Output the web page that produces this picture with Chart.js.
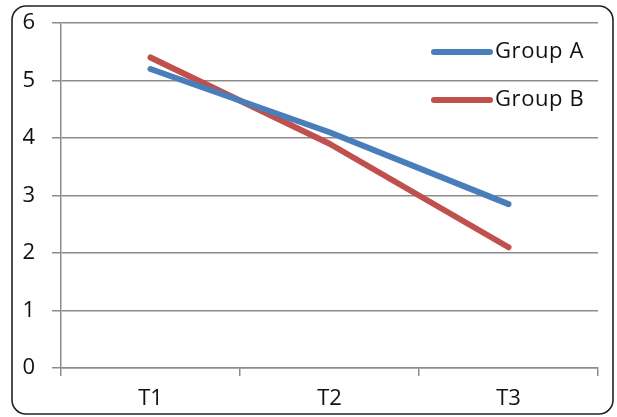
<!DOCTYPE html>
<html><head><meta charset="utf-8">
<script src="https://cdn.jsdelivr.net/npm/chart.js@4/dist/chart.umd.min.js"></script>
<style>html,body{margin:0;padding:0;background:#fff}#wrap{width:617px;height:417px;position:relative}</style>
</head><body><div id="wrap"><canvas id="c" width="617" height="417"></canvas></div>
<script>
const categories = ["T1", "T2", "T3"];
const groupA = [5.2, 4.1, 2.85];
const groupB = [5.4, 3.9, 2.1];
const seriesNames = ["Group A", "Group B"];
const yTicks = [0, 1, 2, 3, 4, 5, 6];

const FONT = "'Open Sans', 'Liberation Sans', sans-serif";
const frame = {
  id: 'frame',
  beforeDraw(chart) {
    const ctx = chart.ctx;
    ctx.save();
    ctx.fillStyle = '#fff';
    ctx.fillRect(0, 0, chart.width, chart.height);
    ctx.strokeStyle = '#222';
    ctx.lineWidth = 1.6;
    const x = 12, y = 6, w = 601, h = 408, r = 14;
    ctx.beginPath();
    ctx.moveTo(x + r, y);
    ctx.arcTo(x + w, y, x + w, y + h, r);
    ctx.arcTo(x + w, y + h, x, y + h, r);
    ctx.arcTo(x, y + h, x, y, r);
    ctx.arcTo(x, y, x + w, y, r);
    ctx.closePath();
    ctx.stroke();
    ctx.restore();
  }
};
const legendIn = {
  id: 'legendIn',
  afterDraw(chart) {
    const ctx = chart.ctx;
    ctx.save();
    ctx.font = "22px " + FONT;
    ctx.textBaseline = 'middle';
    ctx.textAlign = 'left';
    try { ctx.letterSpacing = '0.6px'; } catch (e) {}
    const rows = [52, 100];
    chart.data.datasets.forEach((ds, i) => {
      const y = rows[i];
      ctx.strokeStyle = ds.borderColor;
      ctx.lineWidth = 6;
      ctx.lineCap = 'round';
      ctx.beginPath();
      ctx.moveTo(434, y);
      ctx.lineTo(490, y);
      ctx.stroke();
      ctx.fillStyle = '#111';
      ctx.fillText(ds.label, 495, y);
    });
    ctx.restore();
  }
};

new Chart(document.getElementById('c'), {
  type: 'line',
  data: {
    labels: categories,
    datasets: [
      { label: seriesNames[0], data: groupA, borderColor: '#4a7ebb', backgroundColor: '#4a7ebb', borderWidth: 6, pointRadius: 0, borderCapStyle: 'round', borderJoinStyle: 'round', tension: 0 },
      { label: seriesNames[1], data: groupB, borderColor: '#c0504d', backgroundColor: '#c0504d', borderWidth: 6, pointRadius: 0, borderCapStyle: 'round', borderJoinStyle: 'round', tension: 0 }
    ]
  },
  options: {
    responsive: false,
    animation: false,
    devicePixelRatio: 1,
    layout: { padding: { top: 23, right: 19, bottom: 0, left: 0 } },
    plugins: { legend: { display: false }, tooltip: { enabled: false } },
    scales: {
      x: {
        offset: true,
        grid: { offset: true, drawOnChartArea: false, drawTicks: true, tickLength: 8, color: '#8c8c8c', lineWidth: 1.5 },
        border: { color: '#8c8c8c', width: 1.5 },
        ticks: { color: '#111', font: { family: FONT, size: 22 }, padding: 10, maxRotation: 0 },
        afterFit(s) { s.height = 49; s.paddingLeft = 0; s.paddingRight = 0; }
      },
      y: {
        min: 0, max: 6,
        afterBuildTicks(s) { s.ticks = yTicks.map(v => ({ value: v })); },
        grid: { color: '#8c8c8c', lineWidth: 1.5, tickLength: 9 },
        border: { color: '#8c8c8c', width: 1.5 },
        ticks: { color: '#111', font: { family: FONT, size: 22 }, padding: 17 },
        afterFit(s) { s.width = 61; s.paddingTop = 0; s.paddingBottom = 0; }
      }
    }
  },
  plugins: [frame, legendIn]
});
</script></body></html>
